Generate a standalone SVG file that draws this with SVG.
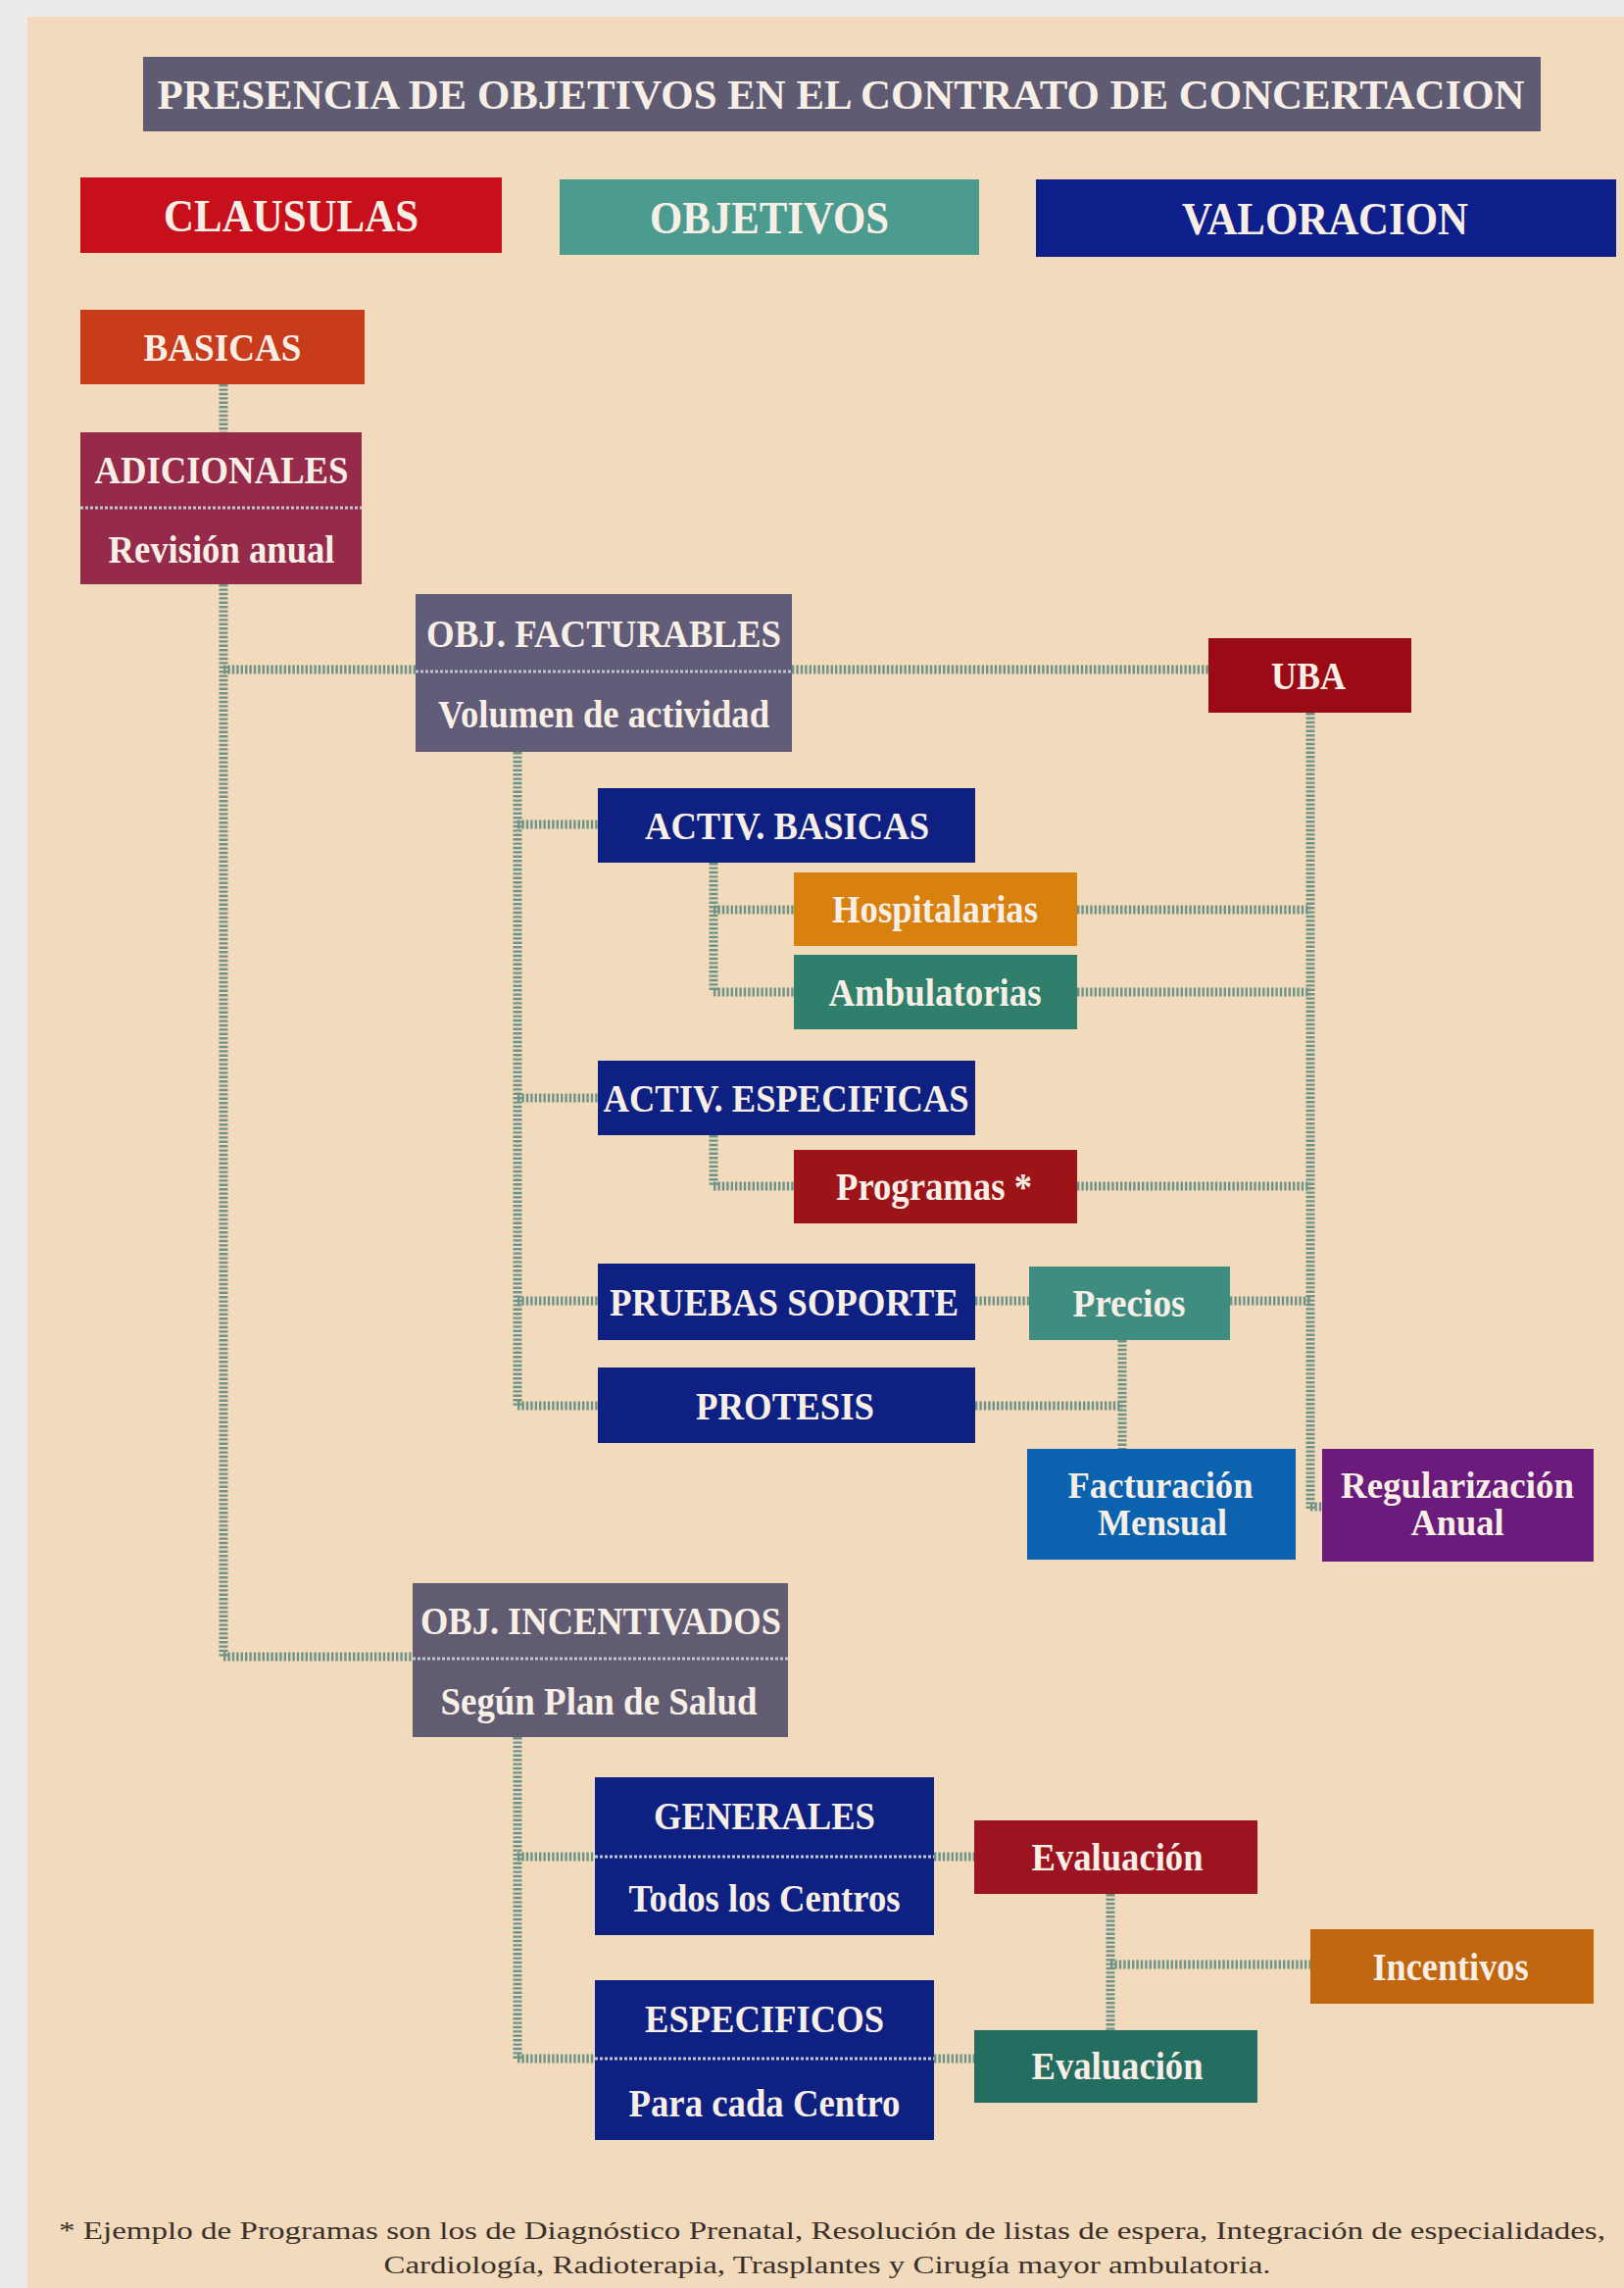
<svg xmlns="http://www.w3.org/2000/svg" width="1657" height="2334" viewBox="0 0 1657 2334">
<style>
.t{font-family:"Liberation Serif","Times New Roman",serif;font-weight:bold;fill:#f7efe6;text-anchor:middle}
.h{font-size:47px}
.n{font-size:41px}
.s{font-size:38px}
.c{fill:none;stroke:#6f9487;stroke-width:9;stroke-dasharray:2.4 2}
.sep{fill:none;stroke:#bcc6cc;stroke-width:3;stroke-dasharray:3 2}
.fn{font-family:"Liberation Serif","Times New Roman",serif;font-size:26px;fill:#3a302a;text-anchor:middle}
</style>
<rect x="0" y="0" width="1657" height="2334" fill="#ecebea"/>
<rect x="28" y="17" width="1629" height="2317" fill="#f2dabd"/>

<g id="connectors">
<path class="c" d="M228 392V441M228 596V1690M228 683H424M228 1690H421M808 683H1233"/>
<path class="c" d="M1337 727V1541M1337 1537H1349"/>
<path class="c" d="M528 767V1434M528 841H610M528 1120H610M528 1327H610M528 1434H610"/>
<path class="c" d="M728 880V1012M728 928H810M728 1012H810M1099 928H1337M1099 1012H1337"/>
<path class="c" d="M728 1158V1210M728 1210H810M1099 1210H1337"/>
<path class="c" d="M995 1327H1050M1255 1327H1337M1145 1367V1478M995 1434H1145"/>
<path class="c" d="M528 1772V2100M528 1894H607M528 2100H607M953 1894H994M953 2100H994"/>
<path class="c" d="M1133 1932V2071M1133 2004H1337"/>
</g>

<g id="title"><rect x="146" y="58" width="1426" height="76" fill="#5f5b72"/>
<text class="t" x="858" y="111" font-size="42" textLength="1395" lengthAdjust="spacingAndGlyphs">PRESENCIA DE OBJETIVOS EN EL CONTRATO DE CONCERTACION</text></g>

<g id="clausulas"><rect x="82" y="181" width="430" height="77" fill="#c8101c"/>
<text class="t h" x="297" y="236" textLength="260" lengthAdjust="spacingAndGlyphs">CLAUSULAS</text></g>
<g id="objetivos"><rect x="571" y="183" width="428" height="77" fill="#4b9b8f"/>
<text class="t h" x="785" y="238" textLength="244" lengthAdjust="spacingAndGlyphs">OBJETIVOS</text></g>
<g id="valoracion"><rect x="1057" y="183" width="592" height="79" fill="#0e1e8a"/>
<text class="t h" x="1352" y="239" textLength="292" lengthAdjust="spacingAndGlyphs">VALORACION</text></g>

<g id="basicas"><rect x="82" y="316" width="290" height="76" fill="#c83c1c"/>
<text class="t n" x="227" y="368" textLength="161" lengthAdjust="spacingAndGlyphs">BASICAS</text></g>

<g id="adicionales"><rect x="82" y="441" width="287" height="155" fill="#952a4a"/>
<line class="sep" x1="82" y1="518" x2="369" y2="518"/>
<text class="t n" x="226" y="493" textLength="259" lengthAdjust="spacingAndGlyphs">ADICIONALES</text>
<text class="t n" x="226" y="574" textLength="231" lengthAdjust="spacingAndGlyphs">Revisión anual</text></g>

<g id="obj-facturables"><rect x="424" y="606" width="384" height="161" fill="#615c78"/>
<line class="sep" x1="424" y1="685" x2="808" y2="685"/>
<text class="t n" x="616" y="660" textLength="362" lengthAdjust="spacingAndGlyphs">OBJ. FACTURABLES</text>
<text class="t n" x="616" y="742" textLength="338" lengthAdjust="spacingAndGlyphs">Volumen de actividad</text></g>

<g id="uba"><rect x="1233" y="651" width="207" height="76" fill="#9a0b16"/>
<text class="t n" x="1335" y="703" textLength="76" lengthAdjust="spacingAndGlyphs">UBA</text></g>

<g id="activ-basicas"><rect x="610" y="804" width="385" height="76" fill="#0e2082"/>
<text class="t n" x="803" y="856" textLength="290" lengthAdjust="spacingAndGlyphs">ACTIV. BASICAS</text></g>
<g id="hospitalarias"><rect x="810" y="890" width="289" height="75" fill="#d8810f"/>
<text class="t n" x="954" y="941" textLength="210" lengthAdjust="spacingAndGlyphs">Hospitalarias</text></g>
<g id="ambulatorias"><rect x="810" y="974" width="289" height="76" fill="#2f7f6c"/>
<text class="t n" x="954" y="1026" textLength="217" lengthAdjust="spacingAndGlyphs">Ambulatorias</text></g>

<g id="activ-especificas"><rect x="610" y="1082" width="385" height="76" fill="#0e2082"/>
<text class="t n" x="802" y="1134" textLength="373" lengthAdjust="spacingAndGlyphs">ACTIV. ESPECIFICAS</text></g>
<g id="programas"><rect x="810" y="1173" width="289" height="75" fill="#9c1418"/>
<text class="t n" x="953" y="1224" textLength="200" lengthAdjust="spacingAndGlyphs">Programas *</text></g>

<g id="pruebas-soporte"><rect x="610" y="1289" width="385" height="78" fill="#0e2082"/>
<text class="t n" x="800" y="1342" textLength="356" lengthAdjust="spacingAndGlyphs">PRUEBAS SOPORTE</text></g>
<g id="protesis"><rect x="610" y="1395" width="385" height="77" fill="#0e2082"/>
<text class="t n" x="801" y="1448" textLength="182" lengthAdjust="spacingAndGlyphs">PROTESIS</text></g>
<g id="precios"><rect x="1050" y="1292" width="205" height="75" fill="#3f8d81"/>
<text class="t n" x="1152" y="1343" textLength="115" lengthAdjust="spacingAndGlyphs">Precios</text></g>

<g id="facturacion"><rect x="1048" y="1478" width="274" height="113" fill="#0b63b0"/>
<text class="t s" x="1184" y="1528" textLength="189" lengthAdjust="spacingAndGlyphs">Facturación</text>
<text class="t s" x="1186" y="1566" textLength="132" lengthAdjust="spacingAndGlyphs">Mensual</text></g>
<g id="regularizacion"><rect x="1349" y="1478" width="277" height="115" fill="#6a1b7c"/>
<text class="t s" x="1487" y="1528" textLength="238" lengthAdjust="spacingAndGlyphs">Regularización</text>
<text class="t s" x="1487" y="1566" textLength="95" lengthAdjust="spacingAndGlyphs">Anual</text></g>

<g id="obj-incentivados"><rect x="421" y="1615" width="383" height="157" fill="#615c72"/>
<line class="sep" x1="421" y1="1692" x2="804" y2="1692"/>
<text class="t n" x="613" y="1667" textLength="368" lengthAdjust="spacingAndGlyphs">OBJ. INCENTIVADOS</text>
<text class="t n" x="611" y="1749" textLength="323" lengthAdjust="spacingAndGlyphs">Según Plan de Salud</text></g>

<g id="generales"><rect x="607" y="1813" width="346" height="161" fill="#0e2082"/>
<line class="sep" x1="607" y1="1894" x2="953" y2="1894" stroke="#9cc8c0"/>
<text class="t n" x="780" y="1866" textLength="226" lengthAdjust="spacingAndGlyphs">GENERALES</text>
<text class="t n" x="780" y="1950" textLength="277" lengthAdjust="spacingAndGlyphs">Todos los Centros</text></g>
<g id="especificos"><rect x="607" y="2020" width="346" height="163" fill="#0e2082"/>
<line class="sep" x1="607" y1="2100" x2="953" y2="2100" stroke="#9cc8c0"/>
<text class="t n" x="780" y="2073" textLength="244" lengthAdjust="spacingAndGlyphs">ESPECIFICOS</text>
<text class="t n" x="780" y="2159" textLength="277" lengthAdjust="spacingAndGlyphs">Para cada Centro</text></g>

<g id="evaluacion-1"><rect x="994" y="1857" width="289" height="75" fill="#9c1322"/>
<text class="t n" x="1140" y="1908" textLength="175" lengthAdjust="spacingAndGlyphs">Evaluación</text></g>
<g id="evaluacion-2"><rect x="994" y="2071" width="289" height="74" fill="#246e61"/>
<text class="t n" x="1140" y="2121" textLength="175" lengthAdjust="spacingAndGlyphs">Evaluación</text></g>
<g id="incentivos"><rect x="1337" y="1968" width="289" height="76" fill="#c0670f"/>
<text class="t n" x="1480" y="2020" textLength="159" lengthAdjust="spacingAndGlyphs">Incentivos</text></g>

<g id="footnote">
<text class="fn" x="849" y="2284" textLength="1578" lengthAdjust="spacingAndGlyphs">* Ejemplo de Programas son los de Diagnóstico Prenatal, Resolución de listas de espera, Integración de especialidades,</text>
<text class="fn" x="844" y="2319" textLength="905" lengthAdjust="spacingAndGlyphs">Cardiología, Radioterapia, Trasplantes y Cirugía mayor ambulatoria.</text>
</g>
</svg>
